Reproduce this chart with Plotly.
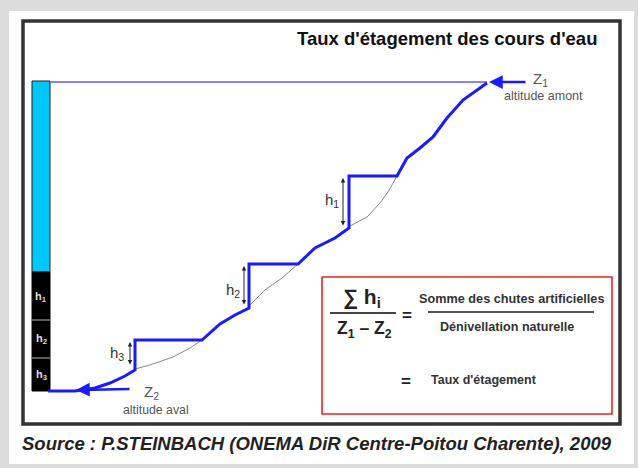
import plotly.graph_objects as go

# ---- diagram data (pixel-space coordinates of the schematic) ----
river_x = [48, 75, 95, 110, 125, 135, 135, 202, 220, 235, 249, 249, 298, 315, 335, 349, 349, 397, 407, 420, 433, 447, 463, 477, 487]
river_y = [391, 391, 388, 383, 376, 370, 340, 340, 324, 315, 308, 264, 264, 248, 238, 228, 176, 176, 158, 148, 137, 118, 100, 90, 83]

natural_x = [135, 150, 173, 190, 202, None, 249, 265, 282, 298, None, 350, 367, 380, 388, 397]
natural_y = [369, 365, 357, 348, 340, None, 306, 290, 278, 264, None, 226, 217, 203, 192, 176]

z1_line_x = [50, 487]
z1_line_y = [82, 82]

bar_labels = ["h<sub>1</sub>", "h<sub>2</sub>", "h<sub>3</sub>"]
bar_label_y = [297, 339, 375]
bar_sep_y = [320, 358]

dam_labels = ["h<sub>1</sub>", "h<sub>2</sub>", "h<sub>3</sub>"]
dam_arrow_x = [343, 244, 130]
dam_arrow_top = [178, 266, 342]
dam_arrow_bot = [227, 306, 366]
dam_label_x = [332, 233, 117]
dam_label_y = [200, 290, 353]

title_text = "Taux d'étagement des cours d'eau"
source_text = "Source : P.STEINBACH (ONEMA DiR Centre-Poitou Charente), 2009"

BLUE = "#1a1aff"
FONT = "Liberation Sans, Arial, sans-serif"

fig = go.Figure()

fig.add_trace(go.Scatter(x=natural_x, y=natural_y, mode="lines",
                         line=dict(color="#8a8a8a", width=1), hoverinfo="skip"))
fig.add_trace(go.Scatter(x=z1_line_x, y=z1_line_y, mode="lines",
                         line=dict(color="#5a5aff", width=1.6), hoverinfo="skip"))
fig.add_trace(go.Scatter(x=river_x, y=river_y, mode="lines",
                         line=dict(color=BLUE, width=3), hoverinfo="skip"))

shapes = []
# white panel
shapes.append(dict(type="rect", x0=9, x1=634, y0=11, y1=464, fillcolor="white",
                   line=dict(width=0), layer="below"))
# black frame
shapes.append(dict(type="rect", x0=23, x1=620, y0=21, y1=424,
                   line=dict(color="#333333", width=3.5), layer="below"))
# left bar
shapes.append(dict(type="rect", x0=32, x1=50, y0=81, y1=272, fillcolor="#00c8fa",
                   line=dict(color="#222222", width=1), layer="below"))
shapes.append(dict(type="rect", x0=32, x1=50, y0=272, y1=391, fillcolor="black",
                   line=dict(color="black", width=1), layer="below"))
for yy in bar_sep_y:
    shapes.append(dict(type="line", x0=32, x1=50, y0=yy, y1=yy,
                       line=dict(color="#9a9a9a", width=1.2)))
# formula box
shapes.append(dict(type="rect", x0=322, x1=612, y0=277, y1=414,
                   line=dict(color="#ee2222", width=1.6)))
shapes.append(dict(type="line", x0=330, x1=396, y0=313, y1=313,
                   line=dict(color="#444444", width=2)))
shapes.append(dict(type="line", x0=428, x1=594, y0=312, y1=312,
                   line=dict(color="#555555", width=1.8)))

annotations = []
# title
annotations.append(dict(x=599, y=38, text="<b>" + title_text + "</b>", showarrow=False,
                        xanchor="right", yanchor="middle",
                        font=dict(family=FONT, size=18.5, color="#111111")))
# source
annotations.append(dict(x=20, y=443, text="<b><i>" + source_text + "</i></b>", showarrow=False,
                        xanchor="left", yanchor="middle",
                        font=dict(family=FONT, size=18.5, color="#222222")))
# bar labels
for lab, yy in zip(bar_labels, bar_label_y):
    annotations.append(dict(x=41, y=yy, text="<b>" + lab + "</b>", showarrow=False,
                            xanchor="center", yanchor="middle",
                            font=dict(family=FONT, size=11, color="#dddddd")))
# dam arrows and labels
for lab, ax_, t, b, lx, ly in zip(dam_labels, dam_arrow_x, dam_arrow_top, dam_arrow_bot,
                                  dam_label_x, dam_label_y):
    annotations.append(dict(x=ax_, y=t, ax=ax_, ay=b, axref="x", ayref="y", xref="x", yref="y",
                            text="", showarrow=True, arrowhead=2, arrowside="end+start",
                            arrowsize=0.9, arrowwidth=1, arrowcolor="#222222"))
    annotations.append(dict(x=lx, y=ly, text=lab, showarrow=False, xanchor="center",
                            yanchor="middle", font=dict(family=FONT, size=15, color="#333333")))
# Z1 arrow
annotations.append(dict(x=489, y=82, ax=527, ay=82, axref="x", ayref="y", xref="x", yref="y",
                        text="", showarrow=True, arrowhead=2, arrowsize=1.1, arrowwidth=2.5,
                        arrowcolor=BLUE))
annotations.append(dict(x=531, y=79, text="Z<sub>1</sub>", showarrow=False, xanchor="left",
                        yanchor="middle", font=dict(family=FONT, size=15, color="#555555")))
annotations.append(dict(x=502, y=96, text="altitude amont", showarrow=False, xanchor="left",
                        yanchor="middle", font=dict(family=FONT, size=12.5, color="#555555")))
# Z2 arrow
annotations.append(dict(x=76, y=390, ax=131, ay=389, axref="x", ayref="y", xref="x", yref="y",
                        text="", showarrow=True, arrowhead=2, arrowsize=1.1, arrowwidth=2.5,
                        arrowcolor=BLUE))
annotations.append(dict(x=142, y=392, text="Z<sub>2</sub>", showarrow=False, xanchor="left",
                        yanchor="middle", font=dict(family=FONT, size=15, color="#555555")))
annotations.append(dict(x=121, y=410, text="altitude aval", showarrow=False, xanchor="left",
                        yanchor="middle", font=dict(family=FONT, size=12.3, color="#555555")))
# formula
annotations.append(dict(x=362, y=298, text="<b>∑ h<sub>i</sub></b>", showarrow=False,
                        xanchor="center", yanchor="middle",
                        font=dict(family=FONT, size=21, color="#222222")))
annotations.append(dict(x=364, y=329, text="<b>Z<sub>1</sub> – Z<sub>2</sub></b>", showarrow=False,
                        xanchor="center", yanchor="middle",
                        font=dict(family=FONT, size=17.5, color="#222222")))
annotations.append(dict(x=407, y=315, text="<b>=</b>", showarrow=False, xanchor="center",
                        yanchor="middle", font=dict(family=FONT, size=17, color="#222222")))
annotations.append(dict(x=511, y=299, text="<b>Somme des chutes artificielles</b>", showarrow=False,
                        xanchor="center", yanchor="middle",
                        font=dict(family=FONT, size=12.7, color="#333333")))
annotations.append(dict(x=507, y=327, text="<b>Dénivellation naturelle</b>", showarrow=False,
                        xanchor="center", yanchor="middle",
                        font=dict(family=FONT, size=12.6, color="#333333")))
annotations.append(dict(x=406, y=381, text="<b>=</b>", showarrow=False, xanchor="center",
                        yanchor="middle", font=dict(family=FONT, size=17, color="#222222")))
annotations.append(dict(x=429, y=380, text="<b>Taux d'étagement</b>", showarrow=False,
                        xanchor="left", yanchor="middle",
                        font=dict(family=FONT, size=12.5, color="#333333")))

fig.update_layout(
    width=638, height=468, autosize=False,
    margin=dict(l=0, r=0, t=0, b=0),
    paper_bgcolor="#dcdcdc", plot_bgcolor="rgba(0,0,0,0)",
    showlegend=False,
    xaxis=dict(range=[0, 638], visible=False, fixedrange=True),
    yaxis=dict(range=[468, 0], visible=False, fixedrange=True),
    shapes=shapes, annotations=annotations,
)

fig.write_html("out.html", config=dict(displayModeBar=False),
               post_script="document.body.style.margin='0';document.body.style.background='#dcdcdc';")
